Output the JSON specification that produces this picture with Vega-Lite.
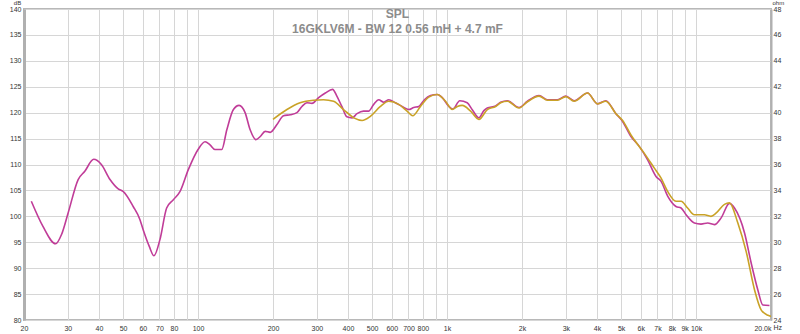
{
  "$schema": "https://vega.github.io/schema/vega-lite/v6.json",
  "width": 747,
  "height": 311,
  "autosize": {"type": "none"},
  "padding": {"left": 24, "top": 9, "right": 29, "bottom": 14},
  "background": "white",
  "title": {
    "text": "SPL",
    "subtitle": "16GKLV6M - BW 12 0.56 mH + 4.7 mF",
    "font": "Liberation Sans",
    "subtitleFont": "Liberation Sans",
    "fontSize": 12,
    "subtitleFontSize": 12,
    "fontWeight": "bold",
    "subtitleFontWeight": "bold",
    "color": "#8c8c8c",
    "subtitleColor": "#8c8c8c",
    "anchor": "middle",
    "offset": -37,
    "subtitlePadding": 3
  },
  "config": {
    "view": {"stroke": "#b8b8b8", "strokeWidth": 2},
    "axis": {
      "labelFont": "Liberation Sans",
      "labelFontSize": 7,
      "labelColor": "#333333",
      "titleFont": "Liberation Sans",
      "titleFontSize": 6,
      "titleFontWeight": "normal",
      "titleColor": "#333333",
      "ticks": false,
      "domain": false,
      "gridColor": "#d6d6d6",
      "gridWidth": 1,
      "gridOpacity": 1
    }
  },
  "data": {
    "values": [
      {"freq": 21.4, "spl": 102.9, "series": "SPL"},
      {"freq": 23.8, "spl": 98.1, "series": "SPL"},
      {"freq": 26.8, "spl": 94.7, "series": "SPL"},
      {"freq": 28.3, "spl": 96.5, "series": "SPL"},
      {"freq": 30.1, "spl": 100.7, "series": "SPL"},
      {"freq": 33.0, "spl": 107.1, "series": "SPL"},
      {"freq": 35.1, "spl": 108.7, "series": "SPL"},
      {"freq": 38.1, "spl": 111.0, "series": "SPL"},
      {"freq": 40.9, "spl": 110.0, "series": "SPL"},
      {"freq": 44.3, "spl": 107.1, "series": "SPL"},
      {"freq": 47.8, "spl": 105.3, "series": "SPL"},
      {"freq": 50.0, "spl": 104.8, "series": "SPL"},
      {"freq": 54.9, "spl": 101.9, "series": "SPL"},
      {"freq": 58.4, "spl": 99.4, "series": "SPL"},
      {"freq": 60.2, "spl": 97.4, "series": "SPL"},
      {"freq": 63.7, "spl": 94.2, "series": "SPL"},
      {"freq": 66.5, "spl": 92.4, "series": "SPL"},
      {"freq": 70.3, "spl": 95.5, "series": "SPL"},
      {"freq": 74.8, "spl": 101.6, "series": "SPL"},
      {"freq": 79.6, "spl": 103.2, "series": "SPL"},
      {"freq": 84.7, "spl": 104.8, "series": "SPL"},
      {"freq": 91.4, "spl": 109.0, "series": "SPL"},
      {"freq": 100, "spl": 112.9, "series": "SPL"},
      {"freq": 106.7, "spl": 114.4, "series": "SPL"},
      {"freq": 111.7, "spl": 113.8, "series": "SPL"},
      {"freq": 117, "spl": 112.9, "series": "SPL"},
      {"freq": 124.5, "spl": 112.9, "series": "SPL"},
      {"freq": 130.5, "spl": 116.7, "series": "SPL"},
      {"freq": 138.7, "spl": 120.6, "series": "SPL"},
      {"freq": 146.2, "spl": 121.4, "series": "SPL"},
      {"freq": 154.5, "spl": 120.0, "series": "SPL"},
      {"freq": 161.9, "spl": 116.7, "series": "SPL"},
      {"freq": 170.7, "spl": 114.8, "series": "SPL"},
      {"freq": 177.7, "spl": 115.4, "series": "SPL"},
      {"freq": 186, "spl": 116.4, "series": "SPL"},
      {"freq": 194.8, "spl": 116.2, "series": "SPL"},
      {"freq": 207.4, "spl": 117.7, "series": "SPL"},
      {"freq": 220.4, "spl": 119.4, "series": "SPL"},
      {"freq": 234.6, "spl": 119.6, "series": "SPL"},
      {"freq": 249.5, "spl": 120.0, "series": "SPL"},
      {"freq": 261.4, "spl": 121.2, "series": "SPL"},
      {"freq": 273.7, "spl": 121.9, "series": "SPL"},
      {"freq": 286.8, "spl": 121.8, "series": "SPL"},
      {"freq": 304.9, "spl": 122.9, "series": "SPL"},
      {"freq": 324.5, "spl": 123.8, "series": "SPL"},
      {"freq": 347, "spl": 124.5, "series": "SPL"},
      {"freq": 361, "spl": 123.2, "series": "SPL"},
      {"freq": 378, "spl": 121.2, "series": "SPL"},
      {"freq": 396, "spl": 119.2, "series": "SPL"},
      {"freq": 415.5, "spl": 119.0, "series": "SPL"},
      {"freq": 435, "spl": 119.8, "series": "SPL"},
      {"freq": 462, "spl": 120.3, "series": "SPL"},
      {"freq": 484, "spl": 120.3, "series": "SPL"},
      {"freq": 507.6, "spl": 121.6, "series": "SPL"},
      {"freq": 531.6, "spl": 122.5, "series": "SPL"},
      {"freq": 557, "spl": 122.0, "series": "SPL"},
      {"freq": 583.5, "spl": 122.5, "series": "SPL"},
      {"freq": 620.5, "spl": 121.9, "series": "SPL"},
      {"freq": 660, "spl": 121.2, "series": "SPL"},
      {"freq": 702, "spl": 120.6, "series": "SPL"},
      {"freq": 735, "spl": 121.0, "series": "SPL"},
      {"freq": 770, "spl": 121.2, "series": "SPL"},
      {"freq": 811, "spl": 122.5, "series": "SPL"},
      {"freq": 858, "spl": 123.3, "series": "SPL"},
      {"freq": 913, "spl": 123.5, "series": "SPL"},
      {"freq": 957, "spl": 122.9, "series": "SPL"},
      {"freq": 1017, "spl": 121.2, "series": "SPL"},
      {"freq": 1055, "spl": 120.7, "series": "SPL"},
      {"freq": 1125, "spl": 122.3, "series": "SPL"},
      {"freq": 1205, "spl": 121.9, "series": "SPL"},
      {"freq": 1265, "spl": 120.5, "series": "SPL"},
      {"freq": 1343, "spl": 119.0, "series": "SPL"},
      {"freq": 1406, "spl": 120.4, "series": "SPL"},
      {"freq": 1451, "spl": 120.9, "series": "SPL"},
      {"freq": 1567, "spl": 121.3, "series": "SPL"},
      {"freq": 1641, "spl": 122.0, "series": "SPL"},
      {"freq": 1747, "spl": 122.3, "series": "SPL"},
      {"freq": 1946, "spl": 121.0, "series": "SPL"},
      {"freq": 2103, "spl": 122.2, "series": "SPL"},
      {"freq": 2341, "spl": 123.3, "series": "SPL"},
      {"freq": 2530, "spl": 122.5, "series": "SPL"},
      {"freq": 2777, "spl": 122.5, "series": "SPL"},
      {"freq": 2999, "spl": 123.2, "series": "SPL"},
      {"freq": 3238, "spl": 122.3, "series": "SPL"},
      {"freq": 3666, "spl": 123.8, "series": "SPL"},
      {"freq": 4020, "spl": 121.7, "series": "SPL"},
      {"freq": 4342, "spl": 122.3, "series": "SPL"},
      {"freq": 4766, "spl": 119.8, "series": "SPL"},
      {"freq": 5070, "spl": 118.3, "series": "SPL"},
      {"freq": 5478, "spl": 115.4, "series": "SPL"},
      {"freq": 5914, "spl": 113.5, "series": "SPL"},
      {"freq": 6391, "spl": 110.9, "series": "SPL"},
      {"freq": 6905, "spl": 107.7, "series": "SPL"},
      {"freq": 7229, "spl": 106.8, "series": "SPL"},
      {"freq": 7691, "spl": 103.9, "series": "SPL"},
      {"freq": 8309, "spl": 101.9, "series": "SPL"},
      {"freq": 8710, "spl": 101.6, "series": "SPL"},
      {"freq": 9120, "spl": 100.3, "series": "SPL"},
      {"freq": 9846, "spl": 98.7, "series": "SPL"},
      {"freq": 10470, "spl": 98.5, "series": "SPL"},
      {"freq": 11140, "spl": 98.7, "series": "SPL"},
      {"freq": 11850, "spl": 98.4, "series": "SPL"},
      {"freq": 12610, "spl": 99.7, "series": "SPL"},
      {"freq": 13620, "spl": 102.5, "series": "SPL"},
      {"freq": 14270, "spl": 101.6, "series": "SPL"},
      {"freq": 15660, "spl": 96.8, "series": "SPL"},
      {"freq": 16650, "spl": 91.0, "series": "SPL"},
      {"freq": 17710, "spl": 85.8, "series": "SPL"},
      {"freq": 18540, "spl": 82.9, "series": "SPL"},
      {"freq": 19720, "spl": 82.8, "series": "SPL"},
      {"freq": 200, "spl": 118.7, "series": "SPL BW"},
      {"freq": 227.5, "spl": 120.6, "series": "SPL BW"},
      {"freq": 257, "spl": 121.9, "series": "SPL BW"},
      {"freq": 291, "spl": 122.4, "series": "SPL BW"},
      {"freq": 319, "spl": 122.5, "series": "SPL BW"},
      {"freq": 350, "spl": 122.2, "series": "SPL BW"},
      {"freq": 384, "spl": 120.6, "series": "SPL BW"},
      {"freq": 422, "spl": 119.0, "series": "SPL BW"},
      {"freq": 456, "spl": 118.5, "series": "SPL BW"},
      {"freq": 492, "spl": 119.3, "series": "SPL BW"},
      {"freq": 540, "spl": 121.2, "series": "SPL BW"},
      {"freq": 583, "spl": 122.2, "series": "SPL BW"},
      {"freq": 640, "spl": 121.6, "series": "SPL BW"},
      {"freq": 691, "spl": 120.3, "series": "SPL BW"},
      {"freq": 728, "spl": 119.4, "series": "SPL BW"},
      {"freq": 782, "spl": 121.2, "series": "SPL BW"},
      {"freq": 845, "spl": 123.0, "series": "SPL BW"},
      {"freq": 913, "spl": 123.5, "series": "SPL BW"},
      {"freq": 986, "spl": 122.2, "series": "SPL BW"},
      {"freq": 1049, "spl": 120.6, "series": "SPL BW"},
      {"freq": 1100, "spl": 121.2, "series": "SPL BW"},
      {"freq": 1151, "spl": 121.4, "series": "SPL BW"},
      {"freq": 1243, "spl": 120.3, "series": "SPL BW"},
      {"freq": 1343, "spl": 118.7, "series": "SPL BW"},
      {"freq": 1451, "spl": 120.6, "series": "SPL BW"},
      {"freq": 1567, "spl": 121.2, "series": "SPL BW"},
      {"freq": 1641, "spl": 121.9, "series": "SPL BW"},
      {"freq": 1747, "spl": 122.2, "series": "SPL BW"},
      {"freq": 1946, "spl": 120.9, "series": "SPL BW"},
      {"freq": 2103, "spl": 122.1, "series": "SPL BW"},
      {"freq": 2341, "spl": 123.2, "series": "SPL BW"},
      {"freq": 2530, "spl": 122.4, "series": "SPL BW"},
      {"freq": 2777, "spl": 122.4, "series": "SPL BW"},
      {"freq": 2999, "spl": 123.1, "series": "SPL BW"},
      {"freq": 3238, "spl": 122.2, "series": "SPL BW"},
      {"freq": 3666, "spl": 123.8, "series": "SPL BW"},
      {"freq": 4020, "spl": 121.7, "series": "SPL BW"},
      {"freq": 4342, "spl": 122.2, "series": "SPL BW"},
      {"freq": 4766, "spl": 119.8, "series": "SPL BW"},
      {"freq": 5070, "spl": 118.5, "series": "SPL BW"},
      {"freq": 5478, "spl": 115.7, "series": "SPL BW"},
      {"freq": 6190, "spl": 112.2, "series": "SPL BW"},
      {"freq": 6800, "spl": 109.3, "series": "SPL BW"},
      {"freq": 7229, "spl": 107.4, "series": "SPL BW"},
      {"freq": 7691, "spl": 104.8, "series": "SPL BW"},
      {"freq": 8309, "spl": 102.9, "series": "SPL BW"},
      {"freq": 8710, "spl": 102.9, "series": "SPL BW"},
      {"freq": 9250, "spl": 101.6, "series": "SPL BW"},
      {"freq": 9846, "spl": 100.3, "series": "SPL BW"},
      {"freq": 10800, "spl": 100.3, "series": "SPL BW"},
      {"freq": 11480, "spl": 100.0, "series": "SPL BW"},
      {"freq": 12030, "spl": 100.6, "series": "SPL BW"},
      {"freq": 13000, "spl": 102.3, "series": "SPL BW"},
      {"freq": 13620, "spl": 102.6, "series": "SPL BW"},
      {"freq": 14720, "spl": 98.7, "series": "SPL BW"},
      {"freq": 15900, "spl": 93.2, "series": "SPL BW"},
      {"freq": 17180, "spl": 85.8, "series": "SPL BW"},
      {"freq": 18280, "spl": 81.9, "series": "SPL BW"},
      {"freq": 19450, "spl": 80.9, "series": "SPL BW"},
      {"freq": 20000, "spl": 80.7, "series": "SPL BW"}
    ]
  },
  "encoding": {
    "x": {
      "field": "freq",
      "type": "quantitative",
      "scale": {"type": "log", "domain": [20, 20000], "nice": false},
      "axis": {
        "values": [20, 30, 40, 50, 60, 70, 80, 90, 100, 200, 300, 400, 500, 600, 700, 800, 900, 1000, 2000, 3000, 4000, 5000, 6000, 7000, 8000, 9000, 10000, 20000],
        "labelExpr": "datum.value == 20000 ? '20.0k' : (datum.value == 90 || datum.value == 900) ? '' : datum.value >= 1000 ? (datum.value / 1000) + 'k' : datum.value",
        "labelAlign": {"condition": {"test": "datum.value == 20000", "value": "right"}, "value": "center"},
        "labelPadding": 4,
        "labelFlush": false,
        "labelOverlap": false,
        "grid": true,
        "title": "Hz",
        "titleX": 749,
        "titleY": 10,
        "titleAlign": "left",
        "titleBaseline": "bottom",
        "titleFontSize": 7
      }
    }
  },
  "layer": [
    {
      "mark": {"type": "line", "strokeWidth": 1.6, "interpolate": "monotone", "clip": true},
      "encoding": {
        "y": {
          "field": "spl",
          "type": "quantitative",
          "scale": {"domain": [80, 140], "nice": false, "zero": false},
          "axis": {
            "values": [80, 85, 90, 95, 100, 105, 110, 115, 120, 125, 130, 135, 140],
            "grid": true,
            "labelPadding": 3,
            "labelFlush": false,
            "domain": true,
            "domainColor": "#b0b0b0",
            "domainWidth": 3,
            "title": "dB",
            "titleAngle": 0,
            "titleX": -7,
            "titleY": -4,
            "titleAlign": "center",
            "titleBaseline": "bottom"
          }
        },
        "color": {
          "field": "series",
          "type": "nominal",
          "scale": {"domain": ["SPL", "SPL BW"], "range": ["#c03c98", "#c9a227"]},
          "legend": null
        }
      }
    },
    {
      "mark": {"type": "line", "opacity": 0},
      "encoding": {
        "y": {
          "field": "spl",
          "type": "quantitative",
          "scale": {"domain": [80, 140], "nice": false, "zero": false},
          "axis": {
            "orient": "right",
            "values": [80, 85, 90, 95, 100, 105, 110, 115, 120, 125, 130, 135, 140],
            "labelExpr": "(datum.value - 80) * 0.4 + 24",
            "grid": false,
            "labelPadding": 2,
            "labelFlush": false,
            "domain": true,
            "domainColor": "#b0b0b0",
            "domainWidth": 2,
            "title": "ohm",
            "titleAngle": 0,
            "titleX": 1,
            "titleY": -4,
            "titleAlign": "left",
            "titleBaseline": "bottom"
          }
        }
      }
    }
  ],
  "resolve": {"scale": {"y": "independent"}}
}
